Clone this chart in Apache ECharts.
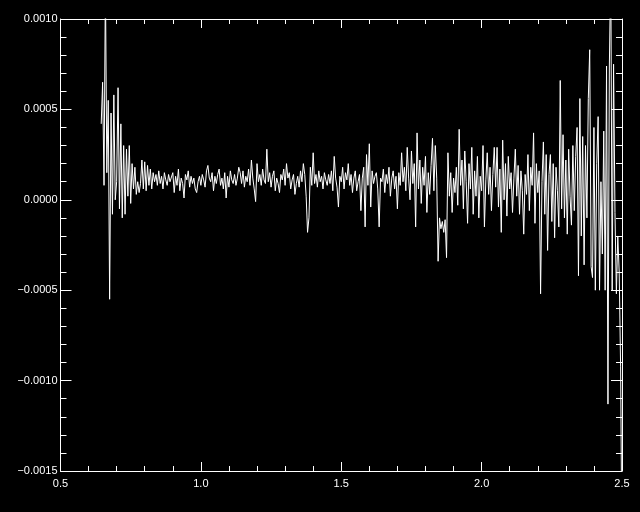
<!DOCTYPE html>
<html>
<head>
<meta charset="utf-8">
<script src="https://cdn.jsdelivr.net/npm/echarts@6/dist/echarts.min.js"></script>
<style>html,body{margin:0;padding:0;background:#000;}#c{width:640px;height:512px;}</style>
</head>
<body>
<div id="c"></div>
<script>
// x grid of the samples
var xStart = 0.645;
var xStep = 0.005;
// values in units of 1e-5
var seg1 = [42,65,8,120,15,55,-55,48,-8,58,0,10,62,-5,42,-10,30,-8,28,2,30,-2,20,6,18,3,10,4,9,22,6,21,5,19,8,17,6,15,10,14,8,16,9,13,6,15,11,8,14,10];
var seg2 = [10,15,4,13,8,17,5,12,9,1,14,11,16,7,13,9,12,6,4,10,13,8,14,11,7,16,19,12,10,15,5,13,9,14,17,8,12,6,15,1,13,7,16,11,9,14,8,12,18,15];
var seg3 = [9,16,7,13,10,17,8,22,12,6,-1,20,10,14,8,17,11,9,28,10,15,7,13,16,5,12,9,4,14,11,17,8,20,12,15,6,11,14,3,9,13,7,16,10,20,14,2,-18,-10,18];
var seg4 = [8,26,9,14,7,16,10,13,6,15,11,8,14,9,16,5,24,12,7,-4,13,10,18,6,15,11,20,8,14,4,12,16,5,10,14,-6,12,18,-15,25,8,31,-4,16,9,13,15,6,-15,12];
var seg5 = [10,17,4,14,9,18,2,12,16,6,13,-5,15,8,26,10,18,5,29,12,0,27,9,20,-15,37,6,22,-2,18,8,24,-7,15,3,19,34,5,30,12,-34,-10,-16,-12,-18,-11,-32,26,2,15];
var seg6 = [-7,12,4,18,-3,39,8,22,-5,27,10,-13,20,6,29,-8,16,2,24,-10,13,5,30,-15,11,26,3,18,-6,14,29,7,29,-4,17,-18,33,0,20,-9,24,6,15,-7,12,28,2,19,-8,16];
var seg7 = [5,-19,14,3,25,-6,18,8,37,-13,20,4,16,-52,10,32,-8,25,-28,14,25,-12,20,-21,18,5,-15,66,-5,36,-10,22,-19,28,2,-14,30,-6,24,40,-42,56,-20,35,-36,30,-10,56,83,-37];
var seg8 = [-43,40,-50,20,46,-50,10,-30,38,-50,74,-113,74,130,-50,75,-7,-52,-20,-40,-92,-200];
var valueUnit = 1e-5;

var xTickLabels = ['0.5','1.0','1.5','2.0','2.5'];
var yTickLabels = ['\u22120.0015','\u22120.0010','\u22120.0005','0.0000','0.0005','0.0010'];

var yVals = [].concat(seg1, seg2, seg3, seg4, seg5, seg6, seg7, seg8);
var data = yVals.map(function (v, i) { return [xStart + i * xStep, v * valueUnit]; });

var white = '#ffffff';
var font = 'Liberation Sans';
function xAxisCfg(pos, showLabel) {
  return {
    type: 'value', position: pos, min: 0.5, max: 2.5, interval: 0.5,
    axisLine: { show: true, onZero: false, lineStyle: { color: white, width: 1 } },
    axisTick: { show: true, inside: true, length: 9, lineStyle: { color: white, width: 1 } },
    minorTick: { show: true, splitNumber: 5, length: 5, lineStyle: { color: white, width: 1 } },
    splitLine: { show: false },
    axisLabel: { show: showLabel, color: white, fontFamily: font, fontSize: 11, margin: 7,
      formatter: function (v, idx) { return xTickLabels[idx]; } }
  };
}
function yAxisCfg(pos, showLabel) {
  return {
    type: 'value', position: pos, min: -0.0015, max: 0.0010, interval: 0.0005,
    axisLine: { show: true, onZero: false, lineStyle: { color: white, width: 1 } },
    axisTick: { show: true, inside: true, length: 11, lineStyle: { color: white, width: 1 } },
    minorTick: { show: true, splitNumber: 5, length: 6, lineStyle: { color: white, width: 1 } },
    splitLine: { show: false },
    axisLabel: { show: showLabel, color: white, fontFamily: font, fontSize: 11, margin: 3,
      formatter: function (v, idx) { return yTickLabels[idx]; } }
  };
}

var chart = echarts.init(document.getElementById('c'), null, { renderer: 'canvas' });
chart.setOption({
  backgroundColor: '#000000',
  animation: false,
  grid: { left: 60.5, right: 18, top: 19, bottom: 41, containLabel: false, outerBoundsMode: 'none' },
  xAxis: [xAxisCfg('bottom', true), xAxisCfg('top', false)],
  yAxis: [yAxisCfg('left', true), yAxisCfg('right', false)],
  series: [{
    type: 'line', xAxisIndex: 0, yAxisIndex: 0, data: data, showSymbol: false, symbol: 'none',
    clip: true, lineStyle: { color: white, width: 1 }, silent: true
  }]
});
</script>
</body>
</html>
